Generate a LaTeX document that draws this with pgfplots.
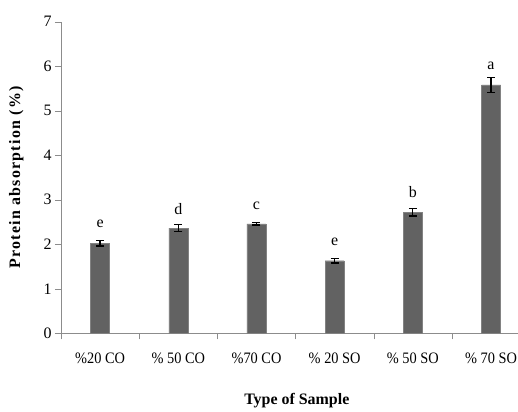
\documentclass[border=0pt]{standalone}
\usepackage{fontspec}
\setmainfont{Liberation Serif}
\usepackage{pgfplots}
\pgfplotsset{compat=1.18}
\definecolor{barfill}{RGB}{98,98,98}
\definecolor{baredge}{RGB}{130,130,130}
\definecolor{axgray}{RGB}{140,140,140}

\pgfplotstableread{
x y e l ly
0 2.02 0.06 e 2.46
1 2.36 0.08 d 2.80
2 2.46 0.03 c 2.87
3 1.63 0.05 e 2.05
4 2.72 0.085 b 3.18
5 5.58 0.17 a 6.00
}\absdata

\begin{document}
\begin{tikzpicture}
\path[use as bounding box] (-61bp,-78.7bp) rectangle (457bp,333.3bp);
\begin{axis}[
  scale only axis,
  width=457bp, height=311.6bp,
  xmin=-0.5, xmax=5.345, ymin=0, ymax=7,
  axis x line=bottom, axis y line=left,
  axis line style={axgray, -},
  tick align=outside,
  xtick={0,...,5},
  xticklabels={\%20 CO, \% 50 CO, \%70 CO, \% 20 SO, \% 50 SO, \% 70 SO},
  major x tick style={draw=none},
  minor xtick={-0.5,0.5,...,5.5},
  minor tick length=6bp,
  major tick length=6bp,
  tick style={axgray},
  ytick={0,...,7},
  font=\fontsize{16}{18}\selectfont,
  /pgf/number format/assume math mode=true,
  xticklabel style={yshift=-10bp, xscale=0.9, inner xsep=0pt},
  ylabel={\addfontfeature{LetterSpace=8}\bfseries Protein absorption (\%)},
  ylabel style={at={(axis description cs:-0.098,0.5)}, anchor=center, rotate=0},
  xlabel={\bfseries Type of Sample},
  xlabel style={at={(axis description cs:0.516,-0.215)}, anchor=center},
]
\addplot[ybar, bar width=19bp, fill=barfill, draw=baredge,
  error bars/.cd, y dir=both, y explicit,
  error bar style={black, line width=1.3bp},
  error mark options={black, rotate=90, mark size=4bp, line width=1.3bp}]
  table[x=x, y=y, y error=e] {\absdata};
\addplot[draw=none, mark=none, nodes near coords, point meta=explicit symbolic,
  every node near coord/.append style={anchor=center, font=\fontsize{16}{18}\selectfont}]
  table[x=x, y=ly, meta=l] {\absdata};
\end{axis}
\end{tikzpicture}
\end{document}
